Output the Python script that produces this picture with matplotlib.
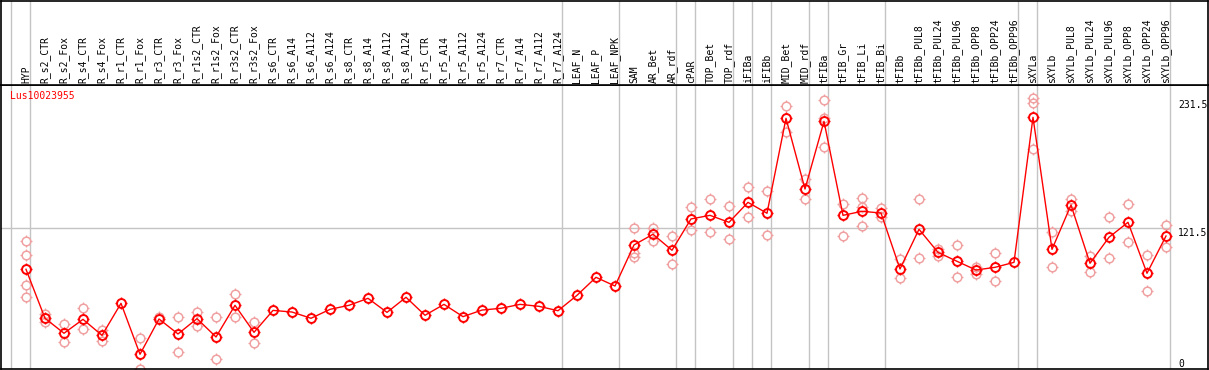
import numpy as np
import matplotlib
matplotlib.use("Agg")
import matplotlib.pyplot as plt
from matplotlib.path import Path

# Données
samples = ["HYP", "R_s2_CTR", "R_s2_Fox", "R_s4_CTR", "R_s4_Fox", "R_r1_CTR", "R_r1_Fox",
           "R_r3_CTR", "R_r3_Fox", "R_r1s2_CTR", "R_r1s2_Fox", "R_r3s2_CTR", "R_r3s2_Fox",
           "R_s6_CTR", "R_s6_A14", "R_s6_A112", "R_s6_A124", "R_s8_CTR", "R_s8_A14",
           "R_s8_A112", "R_s8_A124", "R_r5_CTR", "R_r5_A14", "R_r5_A112", "R_r5_A124",
           "R_r7_CTR", "R_r7_A14", "R_r7_A112", "R_r7_A124", "LEAF_N", "LEAF_P", "LEAF_NPK",
           "SAM", "AR_Bet", "AR_rdf", "cPAR", "TOP_Bet", "TOP_rdf", "iFIBa", "iFIBb",
           "MID_Bet", "MID_rdf", "tFIBa", "tFIB_Gr", "tFIB_Li", "tFIB_Bi", "tFIBb",
           "tFIBb_PUL8", "tFIBb_PUL24", "tFIBb_PUL96", "tFIBb_OPP8", "tFIBb_OPP24",
           "tFIBb_OPP96", "sXYLa", "sXYLb", "sXYLb_PUL8", "sXYLb_PUL24", "sXYLb_PUL96",
           "sXYLb_OPP8", "sXYLb_OPP24", "sXYLb_OPP96"]

means = [85.9, 43.7, 30.8, 42.8, 29.0, 56.6, 12.7, 43.1, 30.2, 43.4, 27.6, 54.9, 31.6,
         50.5, 49.1, 43.7, 51.4, 54.9, 60.9, 48.8, 61.8, 46.3, 55.7, 45.1, 50.8,
         52.3, 55.7, 54.0, 50.2, 63.5, 79.0, 71.5,
         106.9, 116.1, 102.3, 129.3, 132.4, 126.4, 143.6, 134.2,
         216.0, 155.1, 213.4, 132.4, 135.9, 134.4, 86.2,
         120.4, 100.5, 92.8, 85.3, 87.6, 91.9,
         216.9, 103.1, 141.3, 91.1, 113.5, 126.4, 82.5, 114.6]

replicates = [[110.6, 98.5, 72.1, 61.8], [47.4, 40.2], [38.5, 23.0], [52.3, 34.2],
              [33.6, 24.4], [], [26.5, 0.0], [45.1], [44.5, 14.4], [49.1, 37.3],
              [45.1, 8.6], [64.6, 45.1], [40.8, 22.1],
              [], [], [], [], [], [], [], [], [], [], [], [], [], [], [], [], [], [], [],
              [121.2, 100.2, 96.8], [121.2, 110.6], [114.6, 90.5], [139.3, 119.5],
              [146.2, 117.8], [140.7, 111.8], [156.6, 130.7], [153.1, 115.2],
              [226.6, 204.5], [163.7, 146.2], [231.8, 216.6, 191.0], [141.9, 114.6],
              [147.3, 139.3, 123.2], [138.5, 131.2], [94.8, 78.2],
              [146.2, 95.4], [103.1, 97.7], [106.9, 79.0], [88.2, 81.9], [100.0, 75.6], [],
              [233.3, 228.9, 189.3], [117.8, 87.6], [146.5, 136.4], [97.7, 83.8],
              [130.7, 95.4], [141.9, 109.7], [98.0, 67.0], [124.1, 104.9]]

group_ends = [-1, 0, 28, 31, 34, 35, 37, 38, 39, 41, 42, 45, 52, 53, 60]
y_ticks = [0, 121.5, 231.5]
gene = "Lus10023955"

W, H = 1209, 370
fig = plt.figure(figsize=(W / 100, H / 100), dpi=100)

# axes principal (zone des courbes) et bandeau des étiquettes
ax = fig.add_axes([1 / W, 1 / H, 1207 / W, 284 / H])
hdr = fig.add_axes([1 / W, 285 / H, 1207 / W, 84.5 / H], sharex=ax)

x = np.arange(len(samples))
ax.set_xlim(-25 / 19, 1182 / 19)
ax.set_ylim(0, 284 / 1.1605)
hdr.set_ylim(0, 1)

for a in (ax, hdr):
    a.set_xticks([])
    a.set_yticks([])
    for s in a.spines.values():
        s.set_color("black")
        s.set_linewidth(1.2)

grid_col = "#c4c4c4"
for g in group_ends:
    ax.axvline(g + 4 / 19, color=grid_col, lw=1, zorder=0)
    hdr.axvline(g + 4 / 19, color=grid_col, lw=1, zorder=0)
ax.plot([-25 / 19, 60 + 4 / 19], [121.5, 121.5], color=grid_col, lw=1, zorder=0)

# petits traits autour des cercles (effet "soleil")
tick_v = [(1.0, 0), (1.3, 0), (-1.0, 0), (-1.3, 0), (0, 1.0), (0, 1.3), (0, -1.0), (0, -1.3)]
ticks = Path(tick_v, [Path.MOVETO, Path.LINETO] * 4)

rx = [i for i, r in enumerate(replicates) for _ in r]
ry = [v for r in replicates for v in r]
pale = "#f0a0a0"
ax.plot(rx, ry, ls="none", marker="o", ms=6.2, mfc="none", mec=pale, mew=1.1, zorder=2)
ax.plot(rx, ry, ls="none", marker=ticks, ms=8, mec=pale, mew=0.9, zorder=2)
ax.plot(x, means, color="red", lw=1, zorder=3)
ax.plot(x, means, ls="none", marker="o", ms=6.4, mfc="none", mec="red", mew=1.4, zorder=4)
ax.plot(x, means, ls="none", marker=ticks, ms=8.2, mec="red", mew=1.0, zorder=4)

font = dict(family="DejaVu Sans Mono", size=7)
for i, lab in enumerate(samples):
    hdr.text(i, 0.024, lab, rotation=90, ha="center", va="bottom", **font)

for v in y_ticks:
    ax.text(1152 / 19, v, f"{v:g}", ha="left", va="bottom" if v == 0 else "top", **font)
ax.text(9 / 1207, (369 - 96) / 284, gene, color="red", ha="left", va="center",
        transform=ax.transAxes, **font)

fig.savefig("out.png", dpi=100)
